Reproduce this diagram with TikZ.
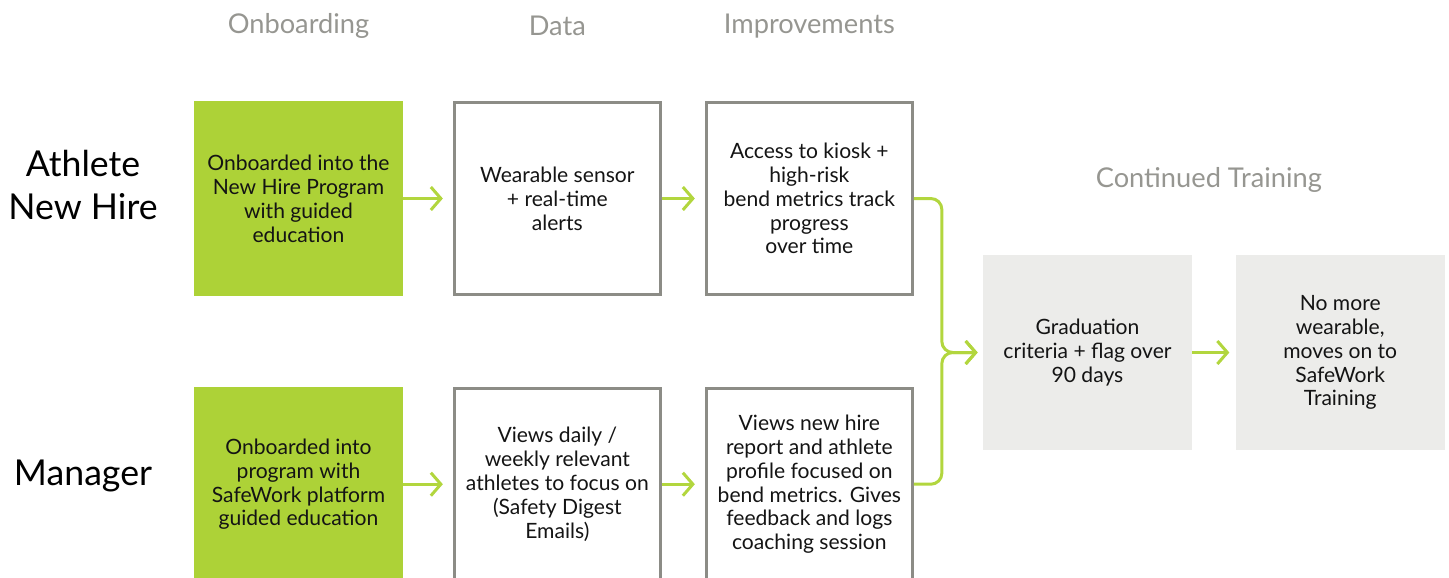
\documentclass[tikz,border=0pt]{standalone}
\usepackage{fontspec}
\setmainfont{Lato}
\usepackage{tikz}
\usetikzlibrary{arrows.meta,positioning,calc}
\definecolor{swgreen}{RGB}{173,210,55}
\definecolor{swarrow}{RGB}{178,214,62}
\definecolor{swborder}{RGB}{140,140,134}
\definecolor{swgrey}{RGB}{236,236,234}
\definecolor{swlabel}{RGB}{150,150,145}
\definecolor{swtext}{RGB}{20,20,20}
\tikzstyle{arrow} = [line width=0.06cm,-{Straight Barb[length=0.2cm,width=0.46cm]},color=swarrow,shorten >=0.2cm]
\tikzstyle{stage} = [rectangle, minimum width=4.18cm, minimum height=3.9cm, align=center, text=swtext, font=\fontsize{12}{13.6}\selectfont]
\tikzstyle{onboard} = [stage, fill=swgreen]
\tikzstyle{outlined} = [stage, draw=swborder, line width=0.06cm, minimum width=4.12cm, minimum height=3.84cm]
\tikzstyle{continued} = [stage, fill=swgrey]
\tikzstyle{header} = [text=swlabel, font=\fontsize{15.5}{18}\selectfont]
\tikzstyle{rowlabel} = [align=center, text=black, font=\fontsize{20.3}{24.5}\selectfont]

\begin{document}
\begin{tikzpicture}
    \useasboundingbox (0,0) rectangle (28.98,-11.54);

    % athlete row
    \node[onboard] (athonb) at (5.97,-3.97) {Onboarded into the\\New Hire Program\\with guided\\education};
    \node[outlined, right=0.99cm of athonb] (athdata) {Wearable sensor\\+ real-time\\alerts};
    \node[outlined, right=0.86cm of athdata] (athimp) {Access to kiosk +\\high-risk\\bend metrics track\\progress\\over time};

    % manager row
    \node[onboard, below=1.8cm of athonb] (mgronb) {Onboarded into\\program with\\SafeWork platform\\guided education};
    \node[outlined, right=0.99cm of mgronb] (mgrdata) {Views daily /\\weekly relevant\\athletes to focus on\\(Safety Digest\\Emails)};
    \node[outlined, right=0.86cm of mgrdata] (mgrimp) {Views new hire\\report and athlete\\profile focused on\\bend metrics. Gives\\feedback and logs\\coaching session};

    % continued training
    \node[continued] (grad) at (21.75,-7.05) {Graduation\\criteria + flag over\\90 days};
    \node[continued, right=0.86cm of grad] (done) {No more\\wearable,\\moves on to\\SafeWork\\Training};

    % column and row titles
    \node[header] (hdonb) at ([yshift=1.5cm]athonb.north) {Onboarding};
    \node[header] (hddata) at ([yshift=1.5cm]athdata.north) {Data};
    \node[header] (hdimp) at ([yshift=1.5cm]athimp.north) {Improvements};
    \node[header] (hdcont) at ([xshift=-0.1cm,yshift=1.5cm]$(grad.north)!0.5!(done.north)$) {Continued Training};
    \node[rowlabel] (lblath) at ([xshift=-4.31cm,yshift=0.27cm]athonb.center) {Athlete\\New Hire};
    \node[rowlabel] (lblmgr) at ([xshift=-4.31cm,yshift=0.16cm]mgronb.center) {Manager};

    \draw[arrow] (athonb) -- (athdata);
    \draw[arrow] (athdata) -- (athimp);
    \draw[arrow] (mgronb) -- (mgrdata);
    \draw[arrow] (mgrdata) -- (mgrimp);

    % both rows join before graduation
    \path (athimp.east) ++(0.56,0) coordinate (bend);
    \coordinate (merge) at (bend |- grad.west);
    \draw[arrow, rounded corners=0.22cm, shorten >=0.1cm] (athimp.east) -| (merge) -- (grad.west);
    \draw[arrow, rounded corners=0.22cm, shorten >=0.1cm] (mgrimp.east) -| (merge) -- (grad.west);
    \draw[arrow, shorten >=0.12cm] (grad) -- (done);
\end{tikzpicture}
\end{document}
